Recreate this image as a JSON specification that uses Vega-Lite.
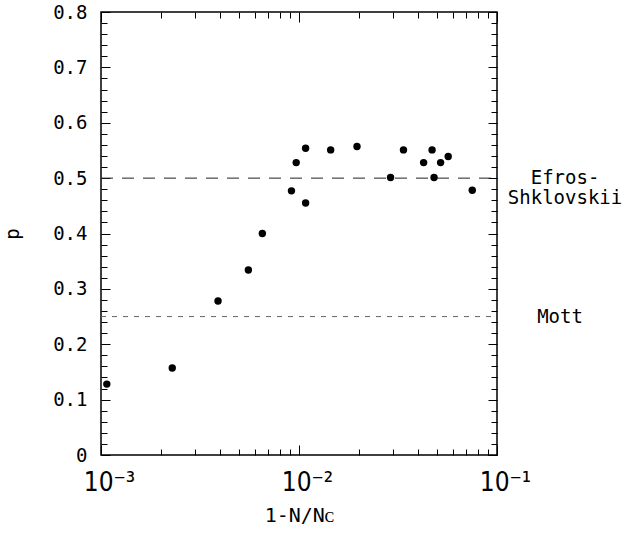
{
  "$schema": "https://vega.github.io/schema/vega-lite/v6.json",
  "width": 396,
  "height": 443,
  "autosize": "none",
  "padding": {"left": 101, "top": 12, "right": 127, "bottom": 83},
  "background": "white",
  "config": {
    "view": {"stroke": "#000", "strokeWidth": 1.5},
    "font": "DejaVu Sans Mono",
    "axis": {
      "grid": false,
      "domain": false,
      "tickColor": "#000",
      "tickWidth": 1,
      "labelColor": "#000",
      "titleColor": "#000",
      "labelFont": "DejaVu Sans Mono",
      "titleFont": "DejaVu Sans Mono",
      "titleFontWeight": "normal"
    }
  },
  "resolve": {"axis": {"x": "independent", "y": "independent"}},
  "layer": [
    {
      "data": {"values": [
        {"x": 0.00107, "p": 0.128},
        {"x": 0.00229, "p": 0.157},
        {"x": 0.0039, "p": 0.278},
        {"x": 0.00555, "p": 0.334},
        {"x": 0.00653, "p": 0.400},
        {"x": 0.00916, "p": 0.477},
        {"x": 0.00968, "p": 0.528},
        {"x": 0.0108, "p": 0.554},
        {"x": 0.0108, "p": 0.455},
        {"x": 0.01445, "p": 0.551},
        {"x": 0.01963, "p": 0.557},
        {"x": 0.029, "p": 0.501},
        {"x": 0.0337, "p": 0.551},
        {"x": 0.0426, "p": 0.528},
        {"x": 0.047, "p": 0.551},
        {"x": 0.0481, "p": 0.501},
        {"x": 0.0519, "p": 0.528},
        {"x": 0.0567, "p": 0.539},
        {"x": 0.075, "p": 0.478}
      ]},
      "mark": {"type": "circle", "size": 55, "color": "#000", "opacity": 1},
      "encoding": {
        "x": {
          "field": "x", "type": "quantitative",
          "scale": {"type": "log", "domain": [0.001, 0.1], "nice": false},
          "axis": {
            "orient": "bottom",
            "values": [0.001, 0.01, 0.1],
            "labelExpr": "datum.value < 0.005 ? '10⁻³' : datum.value < 0.05 ? '10⁻²' : '10⁻¹'",
            "labelFont": "DejaVu Sans Condensed",
            "labelFontSize": 26,
            "labelFlush": false,
            "labelOverlap": false,
            "labelOffset": 8,
            "tickSize": -10,
            "labelPadding": 24,
            "title": "1-N/Nᴄ",
            "titleFontSize": 20,
            "titlePadding": 10
          }
        },
        "y": {
          "field": "p", "type": "quantitative",
          "scale": {"domain": [0, 0.8], "nice": false, "zero": false},
          "axis": {
            "orient": "left",
            "values": [0, 0.1, 0.2, 0.3, 0.4, 0.5, 0.6, 0.7, 0.8],
            "labelExpr": "datum.value == 0 ? '0' : format(datum.value, '.1f')",
            "labelFontSize": 19,
            "labelFlush": false,
            "labelOverlap": false,
            "tickSize": -9,
            "labelPadding": 23,
            "title": "p",
            "titleFontSize": 19,
            "titlePadding": 30
          }
        }
      }
    },
    {
      "data": {"values": [{"model": "Efros-Shklovskii", "p": 0.5, "from": 0.001, "to": 0.1}]},
      "mark": {"type": "rule", "color": "#222", "strokeWidth": 1, "strokeDash": [12, 9]},
      "encoding": {
        "x": {
          "field": "from", "type": "quantitative",
          "scale": {"type": "log", "domain": [0.001, 0.1], "nice": false},
          "axis": {
            "orient": "bottom",
            "values": [0.002, 0.003, 0.004, 0.005, 0.006, 0.007, 0.008, 0.009, 0.02, 0.03, 0.04, 0.05, 0.06, 0.07, 0.08, 0.09],
            "labels": false, "tickSize": -6, "title": null
          }
        },
        "x2": {"field": "to"},
        "y": {
          "field": "p", "type": "quantitative",
          "scale": {"domain": [0, 0.8], "nice": false, "zero": false},
          "axis": {
            "orient": "left",
            "values": [0.02, 0.04, 0.06, 0.08, 0.12, 0.14, 0.16, 0.18, 0.22, 0.24, 0.26, 0.28, 0.32, 0.34, 0.36, 0.38, 0.42, 0.44, 0.46, 0.48, 0.52, 0.54, 0.56, 0.58, 0.62, 0.64, 0.66, 0.68, 0.72, 0.74, 0.76, 0.78],
            "labels": false, "tickSize": -6, "title": null
          }
        }
      }
    },
    {
      "data": {"values": [{"model": "Mott", "p": 0.25, "from": 0.001, "to": 0.1}]},
      "mark": {"type": "rule", "color": "#666", "strokeWidth": 1, "strokeDash": [5, 6]},
      "encoding": {
        "x": {
          "field": "from", "type": "quantitative",
          "scale": {"type": "log", "domain": [0.001, 0.1], "nice": false},
          "axis": {
            "orient": "top",
            "values": [0.001, 0.01, 0.1],
            "labels": false, "tickSize": -10, "title": null
          }
        },
        "x2": {"field": "to"},
        "y": {
          "field": "p", "type": "quantitative",
          "scale": {"domain": [0, 0.8], "nice": false, "zero": false},
          "axis": {
            "orient": "right",
            "values": [0, 0.1, 0.2, 0.3, 0.4, 0.5, 0.6, 0.7, 0.8],
            "labels": false, "tickSize": -9, "title": null
          }
        }
      }
    },
    {
      "data": {"values": [{"label": "Efros-\nShklovskii", "p": 0.5, "x": 0.1}]},
      "mark": {"type": "text", "align": "center", "baseline": "middle", "lineBreak": "\n", "lineHeight": 20, "dx": 68, "fontSize": 19, "font": "DejaVu Sans Mono", "color": "#000"},
      "encoding": {
        "text": {"field": "label"},
        "x": {
          "field": "x", "type": "quantitative",
          "scale": {"type": "log", "domain": [0.001, 0.1], "nice": false},
          "axis": {
            "orient": "top",
            "values": [0.002, 0.003, 0.004, 0.005, 0.006, 0.007, 0.008, 0.009, 0.02, 0.03, 0.04, 0.05, 0.06, 0.07, 0.08, 0.09],
            "labels": false, "tickSize": -6, "title": null
          }
        },
        "y": {
          "field": "p", "type": "quantitative",
          "scale": {"domain": [0, 0.8], "nice": false, "zero": false},
          "axis": {
            "orient": "right",
            "values": [0.02, 0.04, 0.06, 0.08, 0.12, 0.14, 0.16, 0.18, 0.22, 0.24, 0.26, 0.28, 0.32, 0.34, 0.36, 0.38, 0.42, 0.44, 0.46, 0.48, 0.52, 0.54, 0.56, 0.58, 0.62, 0.64, 0.66, 0.68, 0.72, 0.74, 0.76, 0.78],
            "labels": false, "tickSize": -6, "title": null
          }
        }
      }
    },
    {
      "data": {"values": [{"label": "Mott", "p": 0.25, "x": 0.1}]},
      "mark": {"type": "text", "align": "center", "baseline": "middle", "dx": 63, "fontSize": 19, "font": "DejaVu Sans Mono", "color": "#000"},
      "encoding": {
        "text": {"field": "label"},
        "x": {"field": "x", "type": "quantitative", "scale": {"type": "log", "domain": [0.001, 0.1], "nice": false}, "axis": null},
        "y": {"field": "p", "type": "quantitative", "scale": {"domain": [0, 0.8], "nice": false, "zero": false}, "axis": null}
      }
    }
  ]
}
